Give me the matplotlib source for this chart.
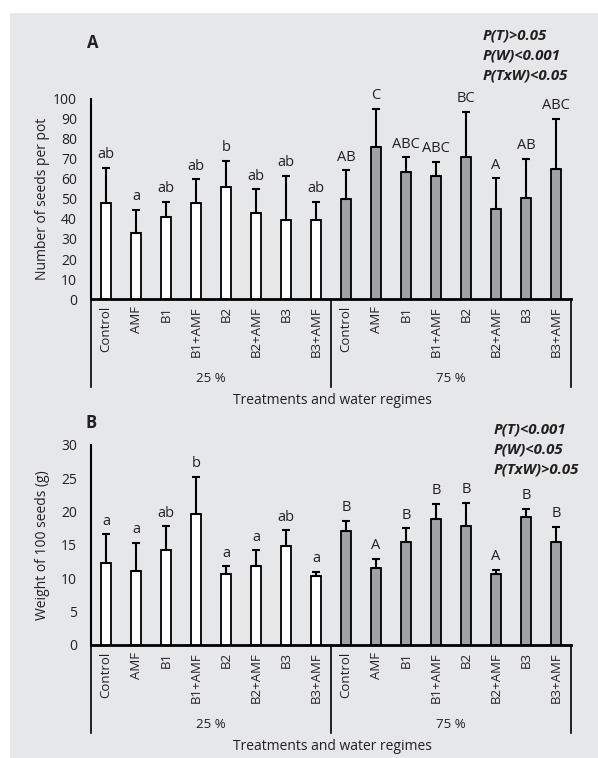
import matplotlib
matplotlib.use("Agg")
import matplotlib.pyplot as plt
from matplotlib.patches import Rectangle
from matplotlib.lines import Line2D
import numpy as np

plt.rcParams['font.family'] = ['Open Sans', 'DejaVu Sans']

treatments = ["Control", "AMF", "B1", "B1+AMF", "B2", "B2+AMF", "B3", "B3+AMF"]
regimes = ["25 %", "75 %"]

# Panel A: number of seeds per pot
seeds_25 = [48.2, 33.0, 41.0, 48.2, 56.0, 43.2, 39.5, 39.5]
seeds_25_err = [17.5, 11.5, 7.5, 11.7, 13.2, 11.7, 22.0, 9.0]
seeds_75 = [49.8, 76.2, 63.7, 61.5, 71.0, 44.8, 50.7, 65.0]
seeds_75_err = [14.6, 19.0, 7.1, 7.2, 22.5, 15.5, 19.3, 25.0]
seeds_letters_25 = ["ab", "a", "ab", "ab", "b", "ab", "ab", "ab"]
seeds_letters_75 = ["AB", "C", "ABC", "ABC", "BC", "A", "AB", "ABC"]
seeds_stats = ["P(T)>0.05", "P(W)<0.001", "P(TxW)<0.05"]

# Panel B: weight of 100 seeds (g)
weight_25 = [12.3, 11.1, 14.3, 19.6, 10.7, 11.9, 14.8, 10.3]
weight_25_err = [4.3, 4.2, 3.5, 5.6, 1.1, 2.3, 2.4, 0.7]
weight_75 = [17.1, 11.6, 15.5, 18.9, 17.9, 10.6, 19.2, 15.5]
weight_75_err = [1.5, 1.3, 2.0, 2.3, 3.4, 0.7, 1.2, 2.2]
weight_letters_25 = ["a", "a", "ab", "b", "a", "a", "ab", "a"]
weight_letters_75 = ["B", "A", "B", "B", "B", "A", "B", "B"]
weight_stats = ["P(T)<0.001", "P(W)<0.05", "P(TxW)>0.05"]

W, H = 598, 758
fig = plt.figure(figsize=(W / 100, H / 100), dpi=100)
fig.patch.set_facecolor("white")
fig.patches.append(Rectangle((10 / W, 0), 1 - 10 / W, 1 - 13 / H, transform=fig.transFigure,
                             facecolor="#e6e7e8", edgecolor="none", zorder=-10))

def fx(px):
    return px / W

def fy(py):
    return 1 - py / H

def panel(top, bottom, v25, e25, v75, e75, l25, l75, ymax, ystep, ylabel, stats, stat_x, stat_y0,
          letter, letter_xy):
    ax = fig.add_axes([fx(91), fy(bottom), fx(571) - fx(91), fy(top) - fy(bottom)])
    ax.set_facecolor("none")
    n = len(treatments)
    x25 = np.arange(n)
    x75 = np.arange(n) + n
    ekw = dict(ecolor="black", elinewidth=1.5, capsize=3, capthick=1.5)
    ax.bar(x25, v25, width=0.35, color="white", edgecolor="black", linewidth=1.3,
           yerr=[np.zeros(n), e25], error_kw=ekw, zorder=3)
    ax.bar(x75, v75, width=0.35, color="#9fa1a3", edgecolor="black", linewidth=1.3,
           yerr=[np.zeros(n), e75], error_kw=ekw, zorder=3)
    for xs, vs, es, ls in ((x25, v25, e25, l25), (x75, v75, e75, l75)):
        for xi, vi, ei, li in zip(xs, vs, es, ls):
            ax.annotate(li, (xi, vi + ei), xytext=(0, 4), textcoords="offset points",
                        ha="center", va="bottom", fontsize=10.5, color="#231f20")
    ax.set_xlim(-0.5, 2 * n - 0.5)
    ax.set_ylim(0, ymax)
    ax.set_yticks(np.arange(0, ymax + ystep / 2, ystep))
    ax.tick_params(axis="y", length=0, pad=10, labelsize=10, labelcolor="#231f20")
    ax.set_xticks(np.arange(2 * n))
    ax.set_xticklabels(treatments * 2, rotation=90, fontsize=9.5, color="#231f20")
    ax.tick_params(axis="x", length=0, pad=5)
    for s in ("top", "right"):
        ax.spines[s].set_visible(False)
    ax.spines["left"].set_linewidth(1.5)
    ax.spines["bottom"].set_linewidth(2)
    # multi-level category separators
    for xv in (-0.5, n - 0.5, 2 * n - 0.5):
        xf = ax.transData.transform((xv, 0))[0] / fig.dpi / fig.get_figwidth()
        fig.add_artist(Line2D([xf, xf], [fy(bottom), fy(bottom + 88)], color="black", lw=1.2))
    for gi, g in enumerate(regimes):
        xc = gi * n + (n - 1) / 2
        xf = ax.transData.transform((xc, 0))[0] / fig.dpi / fig.get_figwidth()
        fig.text(xf, fy(bottom + 79), g, ha="center", va="center", fontsize=9.5, color="#231f20")
    fig.text(fx(332), fy(bottom + 101), "Treatments and water regimes", ha="center", va="center",
             fontsize=10, color="#231f20")
    fig.text(fx(43), fy((top + bottom) / 2), ylabel, rotation=90, ha="center", va="center",
             fontsize=10, color="#231f20")
    for i, s in enumerate(stats):
        fig.text(fx(stat_x), fy(stat_y0 + 20 * i), s, ha="left", va="center", fontsize=10.8,
                 fontweight="bold", fontstyle="italic", color="#231f20")
    fig.text(fx(letter_xy[0]), fy(letter_xy[1]), letter, ha="center", va="center", fontsize=12,
             fontweight="bold", color="#231f20")
    return ax

panel(99, 299, seeds_25, seeds_25_err, seeds_75, seeds_75_err, seeds_letters_25, seeds_letters_75,
      100, 10, "Number of seeds per pot", seeds_stats, 483, 35, "A", (93, 43))
panel(445, 645, weight_25, weight_25_err, weight_75, weight_75_err, weight_letters_25,
      weight_letters_75, 30, 5, "Weight of 100 seeds (g)", weight_stats, 494, 429, "B", (91, 423))

fig.savefig("out.png", dpi=100)
